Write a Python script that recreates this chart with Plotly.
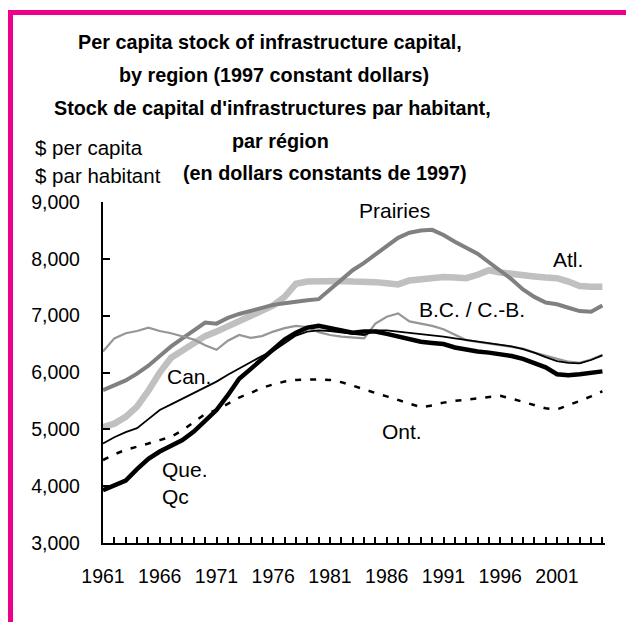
import plotly.graph_objects as go

years = list(range(1961, 2006))

prairies = [5690, 5780, 5860, 5980, 6120, 6290, 6460, 6600, 6740, 6880,
            6860, 6960, 7030, 7080, 7140, 7190, 7220, 7250, 7270, 7290,
            7460, 7640, 7800, 7930, 8070, 8220, 8370, 8460, 8500, 8510,
            8420, 8300, 8200, 8090, 7940, 7800, 7640, 7460, 7330, 7230,
            7200, 7140, 7080, 7070, 7180]

atlantic = [5040, 5100, 5220, 5400, 5680, 6000, 6260, 6390, 6500, 6640,
            6720, 6810, 6890, 6980, 7080, 7180, 7330, 7560, 7600, 7610,
            7620, 7610, 7600, 7600, 7590, 7570, 7550, 7620, 7640, 7650,
            7680, 7670, 7660, 7720, 7800, 7760, 7730, 7710, 7690, 7670,
            7660, 7600, 7520, 7510, 7510]

bc = [6370, 6600, 6690, 6730, 6790, 6730, 6690, 6640, 6580, 6480,
      6400, 6560, 6660, 6610, 6640, 6720, 6780, 6820, 6800, 6710,
      6660, 6630, 6620, 6600, 6860, 6980, 7040, 6900, 6860, 6820,
      6760, 6660, 6570, 6540, 6510, 6490, 6460, 6420, 6350, 6300,
      6240, 6190, 6170, 6230, 6310]

canada = [4750, 4860, 4950, 5020, 5180, 5340, 5440, 5540, 5640, 5740,
          5840, 5960, 6070, 6180, 6290, 6380, 6520, 6650, 6720, 6740,
          6730, 6700, 6680, 6660, 6740, 6740, 6720, 6700, 6680, 6650,
          6630, 6600, 6570, 6550, 6520, 6490, 6460, 6410, 6350, 6270,
          6200, 6170, 6160, 6220, 6300]

quebec = [3930, 4020, 4100, 4300, 4480, 4610, 4720, 4810, 4960, 5150,
          5340, 5600, 5890, 6060, 6230, 6410, 6580, 6700, 6790, 6820,
          6780, 6740, 6700, 6720, 6720, 6680, 6630, 6580, 6540, 6520,
          6500, 6440, 6400, 6370, 6350, 6330, 6290, 6240, 6170, 6090,
          5970, 5950, 5970, 5990, 6020]

ontario = [4460, 4560, 4640, 4690, 4750, 4810, 4870, 4980, 5120, 5270,
           5340, 5450, 5560, 5640, 5730, 5790, 5840, 5870, 5880, 5880,
           5870, 5830, 5770, 5700, 5640, 5580, 5520, 5450, 5390, 5420,
           5470, 5500, 5520, 5540, 5570, 5590, 5540, 5480, 5420, 5370,
           5350, 5420, 5500, 5580, 5670]

x_ticks = list(range(1961, 2002, 5))
y_ticks = [3000, 4000, 5000, 6000, 7000, 8000, 9000]

title_lines = ["Per capita stock of infrastructure capital,",
               "by region (1997 constant dollars)",
               "Stock de capital d'infrastructures par habitant,",
               "par région",
               "(en dollars constants de 1997)"]

# layout geometry (pixels); the page body adds an 8px offset
OFF = 8
W, H = 634 - OFF, 622 - OFF
L, R, T, B = 103 - OFF, 29, 202 - OFF, 79
PW, PH = W - L - R, H - T - B

def px(xs):
    return (xs - OFF - L) / PW

def py(ys):
    return (H - B - (ys - OFF)) / PH

FONT = "Liberation Sans, Arial, Helvetica, sans-serif"

fig = go.Figure()

series = [
    ("Atl.", atlantic, "#c0c0c0", 6.5, "solid"),
    ("Prairies", prairies, "#808080", 4, "solid"),
    ("B.C. / C.-B.", bc, "#969696", 2.2, "solid"),
    ("Ont.", ontario, "#000000", 2.5, "6px,9px"),
    ("Can.", canada, "#000000", 1.8, "solid"),
    ("Que.", quebec, "#000000", 4.5, "solid"),
]
for name, vals, col, w, dash in series:
    fig.add_trace(go.Scatter(x=years, y=vals, mode="lines", name=name,
                             line=dict(color=col, width=w, dash=dash),
                             showlegend=False))

labels = [
    ("Prairies", 1986.7, 8845, "center"),
    ("Atl.", 2002.0, 7982, "center"),
    ("B.C. / C.-B.", 1993.5, 7102, "center"),
    ("Can.", 1968.6, 5928, "center"),
    ("Que.", 1966.0, 4285, "left"),
    ("Qc", 1966.0, 3815, "left"),
    ("Ont.", 1987.3, 4960, "center"),
]
for txt, xv, yv, anc in labels:
    fig.add_annotation(x=xv, y=yv, xref="x", yref="y", text=txt,
                       showarrow=False, xanchor=anc, yanchor="middle",
                       font=dict(size=21, color="#000000", family=FONT))

title_pos = [(270, 42), (274, 75), (272, 108), (280, 141), (325, 173)]
for txt, (xs, ys) in zip(title_lines, title_pos):
    fig.add_annotation(x=px(xs), y=py(ys), xref="paper", yref="paper",
                       text="<b>" + txt + "</b>", showarrow=False,
                       xanchor="center", yanchor="middle",
                       font=dict(size=19.8, color="#000000", family=FONT))

for txt, ys in [("$ per capita", 148), ("$ par habitant", 175)]:
    fig.add_annotation(x=px(33), y=py(ys), xref="paper", yref="paper",
                       text=txt, showarrow=False, xanchor="left",
                       yanchor="middle",
                       font=dict(size=20.5, color="#000000", family=FONT))

MAG = "#EC008C"
fig.add_shape(type="line", xref="paper", yref="paper",
              x0=px(10.5), x1=px(10.5), y0=py(10), y1=py(640),
              line=dict(color=MAG, width=5))
fig.add_shape(type="line", xref="paper", yref="paper",
              x0=px(8), x1=px(650), y0=py(12.5), y1=py(12.5),
              line=dict(color=MAG, width=5))

fig.update_xaxes(range=[1961, 1961 + PW / 11.35], tickvals=x_ticks,
                 ticktext=[str(v) for v in x_ticks],
                 showline=True, linecolor="#000000", linewidth=2.3,
                 ticks="inside", ticklen=6, tickwidth=2, tickcolor="#000000",
                 minor=dict(dtick=1, tick0=1961, ticks="inside", ticklen=6,
                            tickwidth=2, tickcolor="#000000"),
                 showgrid=False, zeroline=False, ticklabelstandoff=14,
                 tickfont=dict(size=19.5, color="#000000", family=FONT))
fig.update_yaxes(range=[3000, 9000], tickvals=y_ticks,
                 ticktext=[f"{v:,}" for v in y_ticks],
                 showline=True, linecolor="#000000", linewidth=2.3,
                 ticks="inside", ticklen=7, tickwidth=2, tickcolor="#000000",
                 showgrid=False, zeroline=False, ticklabelstandoff=17,
                 tickfont=dict(size=19.5, color="#000000", family=FONT))

fig.update_layout(width=W, height=H, autosize=False,
                  margin=dict(l=L, r=R, t=T, b=B),
                  plot_bgcolor="#ffffff", paper_bgcolor="#ffffff",
                  showlegend=False)

fig.write_html("out.html")
